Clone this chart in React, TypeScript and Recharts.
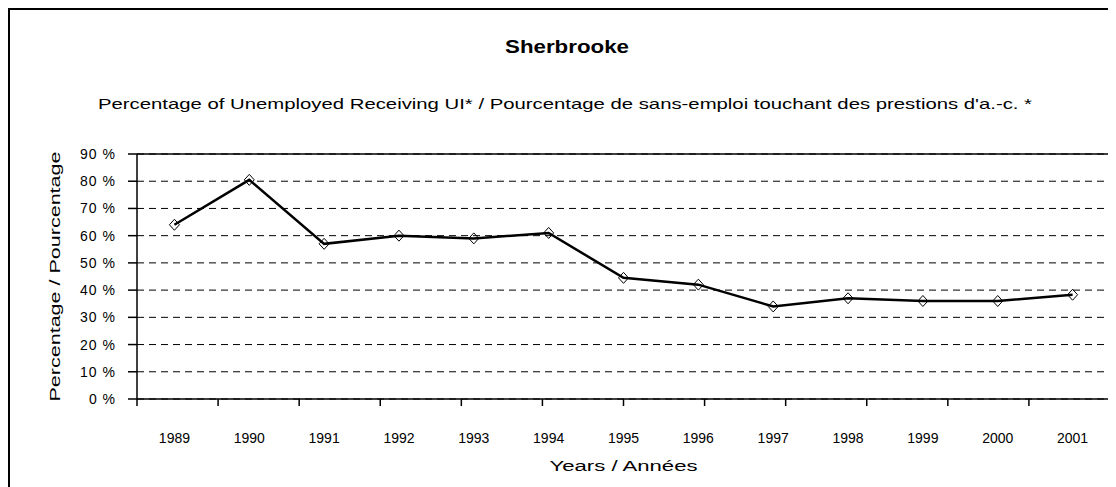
import React from 'react';
import {
  LineChart,
  Line,
  XAxis,
  YAxis,
  CartesianGrid,
  ReferenceLine,
  Label,
} from 'recharts';

const years = ['1989', '1990', '1991', '1992', '1993', '1994', '1995', '1996', '1997', '1998', '1999', '2000', '2001'];
const rates = [64, 80.5, 57, 60, 59, 61, 44.5, 42, 34, 37, 36, 36, 38.3];
const yTicks = [0, 10, 20, 30, 40, 50, 60, 70, 80, 90];
const boundaryTicks = [0, 1, 2, 3, 4, 5, 6, 7, 8, 9, 10, 11, 12, 13];

const titleText = 'Sherbrooke';
const subtitleText = "Percentage of Unemployed Receiving UI* / Pourcentage de sans-emploi touchant des prestions d'a.-c. *";
const yLabelText = 'Percentage / Pourcentage';
const xLabelText = 'Years / Années';

const chartData = years.map((y, i) => ({ year: y, value: rates[i] }));

const FONT = '"Liberation Sans", Arial, sans-serif';

const Diamond = (props: any) => {
  const { cx, cy } = props;
  if (cx == null || cy == null) return null;
  const w = 5;
  const h = 5.5;
  return (
    <polygon
      points={`${cx},${cy - h} ${cx + w},${cy} ${cx},${cy + h} ${cx - w},${cy}`}
      fill="none"
      stroke="#000"
      strokeWidth={1}
    />
  );
};

const YLabel = (props: any) => {
  const vb = props.viewBox || {};
  const cx = vb.x + 47;
  const cy = vb.y + vb.height / 2;
  return (
    <text
      x={cx}
      y={cy}
      transform={`rotate(-90, ${cx}, ${cy})`}
      textAnchor="middle"
      dominantBaseline="central"
      fontFamily={FONT}
      fontSize={14}
      fill="#000"
      textLength={250}
      lengthAdjust="spacingAndGlyphs"
    >
      {yLabelText}
    </text>
  );
};

const XLabel = (props: any) => {
  const vb = props.viewBox || {};
  const cx = vb.x + vb.width / 2;
  const cy = vb.y + vb.height - 6;
  return (
    <text
      x={cx}
      y={cy}
      textAnchor="middle"
      dominantBaseline="central"
      fontFamily={FONT}
      fontSize={14}
      fill="#000"
      textLength={148}
      lengthAdjust="spacingAndGlyphs"
    >
      {xLabelText}
    </text>
  );
};

export default function App() {
  return (
    <div style={{ position: 'relative', width: 1108, height: 479, overflow: 'hidden', background: '#fff' }}>
      <div
        style={{
          position: 'absolute',
          left: 0,
          top: 0,
          width: 1130,
          height: 520,
          borderLeft: '2px solid #000',
          borderTop: '2px solid #000',
          boxSizing: 'border-box',
        }}
      />
      <svg width={1108} height={140} style={{ position: 'absolute', left: 0, top: 0 }}>
        <text
          x={559}
          y={39}
          textAnchor="middle"
          dominantBaseline="central"
          fontFamily={FONT}
          fontWeight="bold"
          fontSize={18}
          fill="#000"
          textLength={124}
          lengthAdjust="spacingAndGlyphs"
        >
          {titleText}
        </text>
        <text
          x={557}
          y={95}
          textAnchor="middle"
          dominantBaseline="central"
          fontFamily={FONT}
          fontSize={15}
          fill="#000"
          textLength={934}
          lengthAdjust="spacingAndGlyphs"
        >
          {subtitleText}
        </text>
      </svg>
      <div style={{ position: 'absolute', left: 0, top: 0 }}>
        <LineChart
          width={1108}
          height={479}
          data={chartData}
          margin={{ top: 146, right: 6, left: 0, bottom: 15 }}
        >
          <CartesianGrid
            xAxisId="bLabels"
            vertical={false}
            stroke="#000"
            strokeDasharray="7 5"
            strokeWidth={1}
          />
          <XAxis
            xAxisId="bLabels"
            dataKey="year"
            type="category"
            scale="band"
            height={66}
            axisLine={false}
            tickLine={false}
            tickSize={0}
            tickMargin={27}
            interval={0}
            tick={{ fill: '#000', fontFamily: FONT, fontSize: 14 }}
          >
            <Label content={<XLabel />} />
          </XAxis>
          <XAxis
            xAxisId="aTicks"
            type="number"
            domain={[0, 13]}
            ticks={boundaryTicks}
            tickFormatter={() => ''}
            tickSize={7}
            height={7}
            axisLine={{ stroke: '#000', strokeWidth: 1.5 }}
            tickLine={{ stroke: '#000', strokeWidth: 1.5 }}
            allowDataOverflow
            interval={0}
          />
          <YAxis
            domain={[0, 90]}
            ticks={yTicks}
            width={129}
            interval={0}
            tickFormatter={(v: number) => `${v} %`}
            tickSize={9}
            tickMargin={12}
            axisLine={{ stroke: '#000', strokeWidth: 1.5 }}
            tickLine={{ stroke: '#000', strokeWidth: 1.5 }}
            tick={{ fill: '#000', fontFamily: FONT, fontSize: 14, letterSpacing: 1 }}
          >
            <Label content={<YLabel />} />
          </YAxis>
          <ReferenceLine xAxisId="bLabels" y={90} stroke="#000" strokeWidth={1.5} />
          <ReferenceLine xAxisId="aTicks" x={13} stroke="#000" strokeWidth={1.5} />
          <Line
            xAxisId="bLabels"
            dataKey="value"
            type="linear"
            stroke="#000"
            strokeWidth={2.5}
            dot={<Diamond />}
            activeDot={false}
            isAnimationActive={false}
          />
        </LineChart>
      </div>
    </div>
  );
}
